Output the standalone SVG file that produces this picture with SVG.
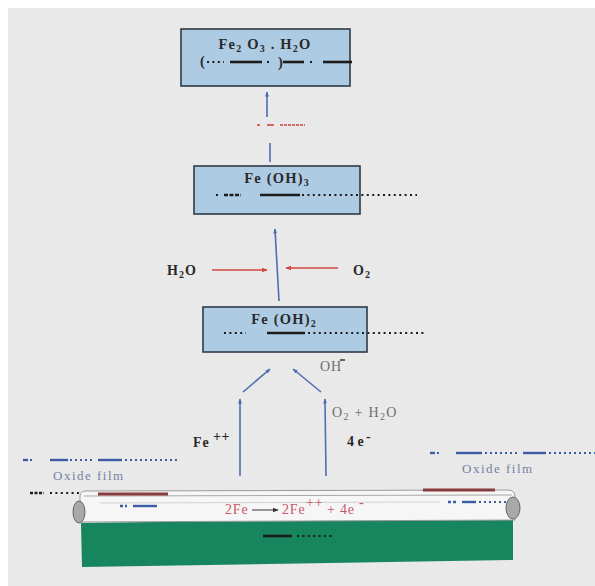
<svg xmlns="http://www.w3.org/2000/svg" width="595" height="586" viewBox="0 0 595 586">
  <defs>
    <marker id="headBlue" viewBox="0 0 10 10" refX="9" refY="5" markerWidth="5" markerHeight="5" orient="auto-start-reverse" markerUnits="userSpaceOnUse">
      <path d="M0,1 L10,5 L0,9 Z" fill="#4f6db4"/>
    </marker>
    <marker id="headRed" viewBox="0 0 10 10" refX="9" refY="5" markerWidth="6" markerHeight="6" orient="auto-start-reverse" markerUnits="userSpaceOnUse">
      <path d="M0,1 L10,5 L0,9 Z" fill="#d0463f"/>
    </marker>
    <marker id="headDark" viewBox="0 0 10 10" refX="9" refY="5" markerWidth="6" markerHeight="6" orient="auto" markerUnits="userSpaceOnUse">
      <path d="M0,1 L10,5 L0,9 Z" fill="#333"/>
    </marker>
  </defs>
  <style>
    .box { fill: #aecbe4; stroke: #2f3a44; stroke-width: 1.6; }
    .boxText { font-family: "Liberation Serif", "Times New Roman", serif; font-weight: bold; font-size: 14.5px; fill: #2a2a2a; letter-spacing: 1.2px; }
    .lbl { font-family: "Liberation Serif", "Times New Roman", serif; font-size: 14px; }
    .bold { font-weight: bold; fill: #2a2a2a; }
    .grey { fill: #6f6f6f; }
    .film { font-family: "Liberation Serif", "Times New Roman", serif; font-size: 13px; fill: #7581a4; letter-spacing: 1.5px; }
    .rx { font-family: "Liberation Serif", "Times New Roman", serif; font-size: 14px; fill: #c8566a; letter-spacing: 0.8px; }
    .dot { stroke: #1c1c1c; stroke-width: 2.2; stroke-dasharray: 2 3.4; fill: none; }
    .bar { stroke: #1c1c1c; stroke-width: 2.6; fill: none; }
    .bdot { stroke: #3d5ca6; stroke-width: 2; stroke-dasharray: 2 3; fill: none; }
    .bbar { stroke: #3d5ca6; stroke-width: 2.4; fill: none; }
    .flow { stroke: #4f6db4; stroke-width: 1.6; fill: none; }
    .redflow { stroke: #d0463f; stroke-width: 1.5; fill: none; }
  </style>

  <!-- page -->
  <rect width="595" height="586" fill="#ffffff"/>
  <rect x="8" y="8" width="587" height="578" fill="#e9e9e9"/>

  <!-- Fe2O3.H2O -->
  <g id="fe2o3">
    <rect class="box" x="181" y="29" width="169" height="57"/>
    <text class="boxText" x="265" y="49" text-anchor="middle">Fe<tspan font-size="10" dy="3">2</tspan><tspan dy="-3"> O</tspan><tspan font-size="10" dy="3">3</tspan><tspan dy="-3"> . H</tspan><tspan font-size="10" dy="3">2</tspan><tspan dy="-3">O</tspan></text>
    <text class="boxText" x="200" y="66">(</text>
    <line class="dot" x1="207" y1="62" x2="224" y2="62"/>
    <line class="bar" x1="230" y1="62" x2="262" y2="62"/>
    <line class="dot" x1="267" y1="62" x2="270" y2="62"/>
    <text class="boxText" x="278" y="67">)</text>
    <line class="bar" x1="283" y1="62" x2="304" y2="62"/>
    <line class="dot" x1="310" y1="62" x2="313" y2="62"/>
    <line class="bar" x1="323" y1="62" x2="352" y2="62"/>
  </g>

  <!-- Fe(OH)3 -->
  <g id="feoh3">
    <rect class="box" x="194" y="166" width="166" height="48"/>
    <text class="boxText" x="277" y="183" text-anchor="middle">Fe (OH)<tspan font-size="10" dy="3">3</tspan></text>
    <line class="dot" x1="216" y1="195" x2="219" y2="195"/>
    <line class="bar" x1="224" y1="195" x2="241" y2="195" stroke-dasharray="4 1.5"/>
    <line class="bar" x1="260" y1="195" x2="300" y2="195"/>
    <line class="dot" x1="302" y1="195" x2="417" y2="195"/>
  </g>

  <!-- Fe(OH)2 -->
  <g id="feoh2">
    <rect class="box" x="203" y="307" width="164" height="45"/>
    <text class="boxText" x="284" y="324" text-anchor="middle">Fe (OH)<tspan font-size="10" dy="3">2</tspan></text>
    <line class="dot" x1="224" y1="333" x2="246" y2="333"/>
    <line class="bar" x1="267" y1="333" x2="305" y2="333"/>
    <line class="dot" x1="308" y1="333" x2="426" y2="333"/>
  </g>

  <!-- labels -->
  <g id="h2o">
    <text class="lbl bold" x="167" y="275" letter-spacing="1">H<tspan font-size="10" dy="3">2</tspan><tspan dy="-3">O</tspan></text>
  </g>
  <g id="o2">
    <text class="lbl bold" x="353" y="275" letter-spacing="1">O<tspan font-size="10" dy="3">2</tspan></text>
  </g>
  <g id="oh">
    <text class="lbl grey" x="320" y="371" letter-spacing="1">OH</text>
    <line x1="340" y1="360" x2="345" y2="360" stroke="#2a2a2a" stroke-width="1.4"/>
  </g>
  <g id="fe2plus">
    <text class="lbl bold" x="193" y="447" font-size="12" letter-spacing="1">Fe</text>
    <text class="lbl bold" x="213" y="441" font-size="12" letter-spacing="0.5">++</text>
  </g>
  <g id="o2h2o">
    <text class="lbl grey" x="332" y="417" letter-spacing="1.3">O<tspan font-size="10" dy="3">2</tspan><tspan dy="-3"> + H</tspan><tspan font-size="10" dy="3">2</tspan><tspan dy="-3">O</tspan></text>
  </g>
  <g id="electrons">
    <text class="lbl bold" x="347" y="446" font-size="11">4 e</text>
    <text class="lbl bold" x="366" y="441" font-size="9">-</text>
  </g>

  <!-- oxide film, left -->
  <g id="filmLeft">
    <line class="bbar" x1="23" y1="460" x2="28" y2="460"/>
    <line class="bdot" x1="30" y1="460" x2="33" y2="460"/>
    <line class="bbar" x1="50" y1="460" x2="68" y2="460"/>
    <line class="bdot" x1="70" y1="460" x2="95" y2="460"/>
    <line class="bbar" x1="98" y1="460" x2="122" y2="460"/>
    <line class="bdot" x1="125" y1="460" x2="178" y2="460"/>
    <text class="film" x="53" y="480">Oxide film</text>
    <line class="bar" x1="30" y1="493" x2="44" y2="493" stroke-width="2" stroke-dasharray="3 1.5"/>
    <line class="dot" x1="50" y1="493" x2="90" y2="493"/>
  </g>

  <!-- oxide film, right -->
  <g id="filmRight">
    <line class="bbar" x1="430" y1="453" x2="435" y2="453"/>
    <line class="bdot" x1="437" y1="453" x2="440" y2="453"/>
    <line class="bbar" x1="456" y1="453" x2="482" y2="453"/>
    <line class="bdot" x1="485" y1="453" x2="520" y2="453"/>
    <line class="bbar" x1="523" y1="453" x2="546" y2="453"/>
    <line class="bdot" x1="549" y1="453" x2="595" y2="453"/>
    <text class="film" x="462" y="473">Oxide film</text>
  </g>

  <!-- steel plate -->
  <g id="plate">
    <polygon points="81,523 513,517 513,560 82,567" fill="#17865f"/>
    <line class="bar" x1="263" y1="536" x2="292" y2="536"/>
    <line class="dot" x1="297" y1="536" x2="334" y2="536"/>
  </g>

  <!-- pipe -->
  <g id="pipe">
    <path d="M80,496 Q80,491 86,491 L508,490 Q515,490 515,497 L515,520 L80,522 Z" fill="#f6f6f6" stroke="#9a9a9a" stroke-width="1"/>
    <line x1="84" y1="496" x2="512" y2="495" stroke="#a8a8a8" stroke-width="1"/>
    <line x1="100" y1="503" x2="440" y2="502" stroke="#c8c8c8" stroke-width="0.8"/>
    <rect x="98" y="492.5" width="70" height="3" fill="#8a3b3c"/>
    <rect x="423" y="488.5" width="72" height="3" fill="#8a3b3c"/>
    <ellipse cx="79" cy="512" rx="6" ry="11" fill="#a9a9a9" stroke="#666" stroke-width="1"/>
    <ellipse cx="513" cy="508" rx="7" ry="11" fill="#a9a9a9" stroke="#666" stroke-width="1"/>
    <line class="bbar" x1="120" y1="506" x2="127" y2="506" stroke-dasharray="3 2"/>
    <line class="bbar" x1="133" y1="506" x2="157" y2="506"/>
    <line class="bbar" x1="448" y1="502" x2="456" y2="502" stroke-dasharray="3 2"/>
    <line class="bbar" x1="462" y1="502" x2="476" y2="502"/>
    <line class="bdot" x1="479" y1="502" x2="507" y2="502"/>
    <text class="rx" x="225" y="514">2Fe</text>
    <line x1="252" y1="510" x2="278" y2="510" stroke="#333" stroke-width="1" marker-end="url(#headDark)"/>
    <text class="rx" x="282" y="514">2Fe</text>
    <text class="rx" x="306" y="507" font-size="11">++</text>
    <text class="rx" x="327" y="514">+ 4e</text>
    <text class="rx" x="359" y="507" font-size="10">-</text>
  </g>

  <!-- reaction flow -->
  <g id="connectors">
    <line class="flow" x1="267" y1="117" x2="267" y2="92" marker-end="url(#headBlue)"/>
    <line x1="257" y1="125" x2="260" y2="125" stroke="#d0463f" stroke-width="1.6"/>
    <line x1="267" y1="125" x2="274" y2="125" stroke="#d0463f" stroke-width="1.6"/>
    <line x1="280" y1="125" x2="305" y2="125" stroke="#d0463f" stroke-width="1.6" stroke-dasharray="3 1"/>
    <line class="flow" x1="270" y1="143" x2="270" y2="162"/>
    <line class="flow" x1="279" y1="301" x2="275" y2="229" marker-end="url(#headBlue)"/>
    <line class="redflow" x1="212" y1="270" x2="267" y2="270" marker-end="url(#headRed)"/>
    <line class="redflow" x1="338" y1="268" x2="286" y2="268" marker-end="url(#headRed)"/>
    <line class="flow" x1="243" y1="392" x2="270" y2="369" marker-end="url(#headBlue)"/>
    <line class="flow" x1="321" y1="392" x2="293" y2="369" marker-end="url(#headBlue)"/>
    <line class="flow" x1="240" y1="476" x2="240" y2="399" marker-end="url(#headBlue)"/>
    <line class="flow" x1="326" y1="476" x2="325" y2="399" marker-end="url(#headBlue)"/>
  </g>
</svg>
